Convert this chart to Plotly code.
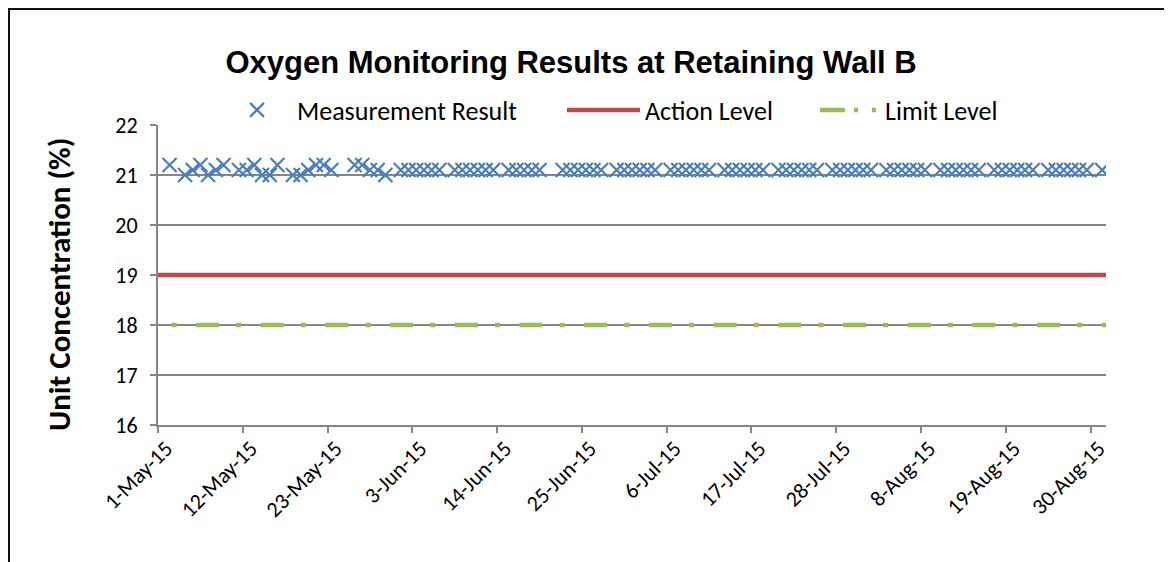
import pandas as pd
import plotly.graph_objects as go

# ---------------- data ----------------
title_text = "Oxygen Monitoring Results at Retaining Wall B"
y_title = "Unit Concentration (%)"

measure_dates = [
    "2015-05-02", "2015-05-04", "2015-05-05", "2015-05-06", "2015-05-07", "2015-05-08", "2015-05-09",
    "2015-05-11", "2015-05-12", "2015-05-13", "2015-05-14", "2015-05-15", "2015-05-16",
    "2015-05-18", "2015-05-19", "2015-05-20", "2015-05-21", "2015-05-22", "2015-05-23",
    "2015-05-26", "2015-05-27", "2015-05-28", "2015-05-29", "2015-05-30",
    "2015-06-01", "2015-06-02", "2015-06-03", "2015-06-04", "2015-06-05", "2015-06-06",
    "2015-06-08", "2015-06-09", "2015-06-10", "2015-06-11", "2015-06-12", "2015-06-13",
    "2015-06-15", "2015-06-16", "2015-06-17", "2015-06-18", "2015-06-19",
    "2015-06-22", "2015-06-23", "2015-06-24", "2015-06-25", "2015-06-26", "2015-06-27",
    "2015-06-29", "2015-06-30",
    "2015-07-01", "2015-07-02", "2015-07-03", "2015-07-04",
    "2015-07-06", "2015-07-07", "2015-07-08", "2015-07-09", "2015-07-10", "2015-07-11",
    "2015-07-13", "2015-07-14", "2015-07-15", "2015-07-16", "2015-07-17", "2015-07-18",
    "2015-07-20", "2015-07-21", "2015-07-22", "2015-07-23", "2015-07-24", "2015-07-25",
    "2015-07-27", "2015-07-28", "2015-07-29", "2015-07-30", "2015-07-31",
    "2015-08-01",
    "2015-08-03", "2015-08-04", "2015-08-05", "2015-08-06", "2015-08-07", "2015-08-08",
    "2015-08-10", "2015-08-11", "2015-08-12", "2015-08-13", "2015-08-14", "2015-08-15",
    "2015-08-17", "2015-08-18", "2015-08-19", "2015-08-20", "2015-08-21", "2015-08-22",
    "2015-08-24", "2015-08-25", "2015-08-26", "2015-08-27", "2015-08-28", "2015-08-29",
    "2015-08-31",
]
measure_values = [
    21.2, 21.0, 21.1, 21.2, 21.0, 21.1, 21.2,
    21.1, 21.1, 21.2, 21.0, 21.0, 21.2,
    21.0, 21.0, 21.1, 21.2, 21.2, 21.1,
    21.2, 21.2, 21.1, 21.1, 21.0,
    21.1, 21.1, 21.1, 21.1, 21.1, 21.1,
    21.1, 21.1, 21.1, 21.1, 21.1, 21.1,
    21.1, 21.1, 21.1, 21.1, 21.1,
    21.1, 21.1, 21.1, 21.1, 21.1, 21.1,
    21.1, 21.1,
    21.1, 21.1, 21.1, 21.1,
    21.1, 21.1, 21.1, 21.1, 21.1, 21.1,
    21.1, 21.1, 21.1, 21.1, 21.1, 21.1,
    21.1, 21.1, 21.1, 21.1, 21.1, 21.1,
    21.1, 21.1, 21.1, 21.1, 21.1,
    21.1,
    21.1, 21.1, 21.1, 21.1, 21.1, 21.1,
    21.1, 21.1, 21.1, 21.1, 21.1, 21.1,
    21.1, 21.1, 21.1, 21.1, 21.1, 21.1,
    21.1, 21.1, 21.1, 21.1, 21.1, 21.1,
    21.1,
]

level_dates = ["2015-05-01", "2015-09-01"]
action_level = [19, 19]
limit_level = [18, 18]

axis_start = "2015-05-01"
axis_end = "2015-09-01"
tick_step_days = 11

# Excel date axis plots each day in the middle of its slot
meas_x = pd.to_datetime(measure_dates) + pd.Timedelta(hours=12)

BLUE = "#4A7EBB"
RED = "#BE4B48"
GREEN = "#9BBB59"
GRID = "#868686"
FONT = "Carlito, Lato, sans-serif"

fig = go.Figure()

fig.add_trace(go.Scatter(
    x=level_dates, y=action_level, mode="lines", name="Action Level",
    line=dict(color=RED, width=4.5), legend="legend2",
))
fig.add_trace(go.Scatter(
    x=level_dates, y=limit_level, mode="lines", name="Limit Level",
    line=dict(color=GREEN, width=4.5, dash="0px,13.5px,5px,19.5px,23px,3.7px"),
    showlegend=False,
))
# legend-only entry for limit level (Excel style sample)
fig.add_trace(go.Scatter(
    x=[None], y=[None], mode="lines", name="Limit Level",
    line=dict(color=GREEN, width=4.5, dash="25px,9px,4px,14px,4px,40px"),
    legend="legend3",
))
fig.add_trace(go.Scatter(
    x=meas_x, y=measure_values, mode="markers", name="Measurement Result",
    marker=dict(symbol="x-thin", size=14, line=dict(color=BLUE, width=2.2), color=BLUE),
    legend="legend",
))

# page body has an 8px margin: lay the figure out in page pixel terms
OFF = 8
W, H = 1172 - OFF, 562 - OFF
L, T = 158 - OFF, 125 - OFF
R, B = 1172 - 1106, 562 - 425
pw, ph = W - L - R, H - T - B


def px_x(p):
    return ((p - OFF) - L) / pw


def px_y(p):
    return (H - B - (p - OFF)) / ph


leg_common = dict(orientation="h", yanchor="middle", xanchor="left",
                  bgcolor="rgba(0,0,0,0)", borderwidth=0,
                  font=dict(family=FONT, size=26, color="#000000"))

fig.update_layout(
    width=W, height=H,
    margin=dict(l=L, r=R, t=T, b=B),
    paper_bgcolor="white", plot_bgcolor="white",
    title=dict(text="<b>" + title_text + "</b>", x=(571 - OFF) / W, xref="container", xanchor="center",
               y=1 - (62 - OFF) / H, yref="container", yanchor="middle",
               font=dict(family="Liberation Sans, Arial, sans-serif", size=31, color="#000000")),
    legend=dict(**leg_common, x=px_x(217), y=px_y(110), itemwidth=70),
    legend2=dict(**leg_common, x=px_x(562), y=px_y(110), itemwidth=73),
    legend3=dict(**leg_common, x=px_x(815), y=px_y(110), itemwidth=60),
    xaxis=dict(
        type="date", range=[axis_start, axis_end],
        tick0=axis_start, dtick=tick_step_days * 86400000,
        tickformat="%-d-%b-%y", tickangle=-45,
        ticks="outside", ticklen=6, tickwidth=2, tickcolor=GRID,
        showline=True, linecolor=GRID, linewidth=2,
        showgrid=False, zeroline=False,
        tickfont=dict(family=FONT, size=22, color="#000000"),
        ticklabelshift=8, ticklabelstandoff=-6,
    ),
    yaxis=dict(
        range=[16, 22], dtick=1, tick0=16,
        ticks="outside", ticklen=6, tickwidth=2, tickcolor=GRID,
        showline=True, linecolor=GRID, linewidth=2,
        showgrid=True, gridcolor=GRID, gridwidth=1.5, zeroline=False,
        tickfont=dict(family=FONT, size=22, color="#000000"),
        ticklabelstandoff=8,
    ),
    showlegend=True,
    annotations=[dict(
        text="<b>" + y_title + "</b>", textangle=-90, showarrow=False,
        xref="paper", yref="paper", x=px_x(59), y=px_y(285),
        xanchor="center", yanchor="middle",
        font=dict(family=FONT, size=31, color="#000000"),
    )],
)

# chart frame (top & left border of the chart area)
fig.add_shape(type="line", xref="paper", yref="paper",
              x0=px_x(OFF), x1=px_x(1172), y0=px_y(OFF + 1), y1=px_y(OFF + 1),
              line=dict(color="#111111", width=2))
fig.add_shape(type="line", xref="paper", yref="paper",
              x0=px_x(OFF + 1), x1=px_x(OFF + 1), y0=px_y(OFF), y1=px_y(562),
              line=dict(color="#111111", width=2))

fig.write_html("out.html")
